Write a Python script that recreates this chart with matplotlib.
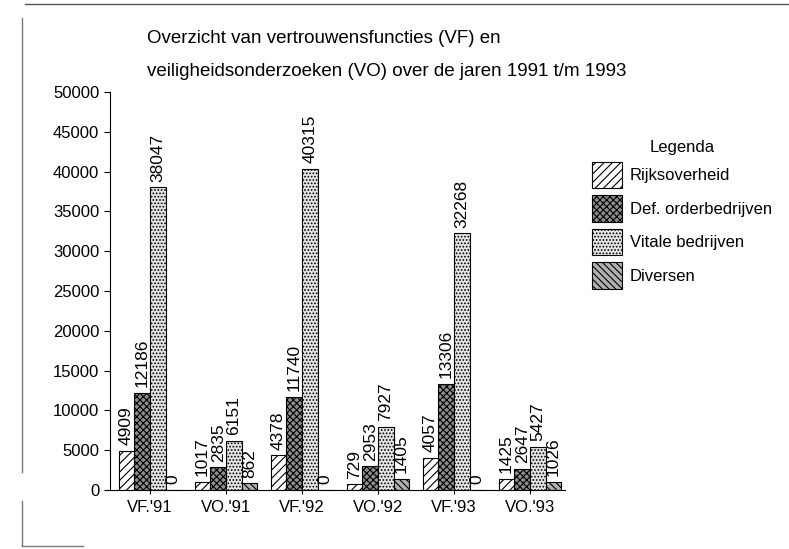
import numpy as np
import matplotlib.pyplot as plt
from matplotlib.lines import Line2D
from matplotlib.patches import Patch

plt.rcParams['font.family'] = ['Liberation Sans', 'DejaVu Sans']
plt.rcParams['hatch.linewidth'] = 0.8

groepen = ["VF.'91", "VO.'91", "VF.'92", "VO.'92", "VF.'93", "VO.'93"]
rijksoverheid = [4909, 1017, 4378, 729, 4057, 1425]
def_orderbedrijven = [12186, 2835, 11740, 2953, 13306, 2647]
vitale_bedrijven = [38047, 6151, 40315, 7927, 32268, 5427]
diversen = [0, 862, 0, 1405, 0, 1026]

reeksen = [
    ('Rijksoverheid', rijksoverheid, 'white', '////'),
    ('Def. orderbedrijven', def_orderbedrijven, '#8c8c8c', 'xxxxx'),
    ('Vitale bedrijven', vitale_bedrijven, '#e4e4e4', '.....'),
    ('Diversen', diversen, '#b0b0b0', '\\\\\\\\\\'),
]

fig = plt.figure(figsize=(7.89, 5.49), dpi=100)
ax = fig.add_axes([0.139, 0.1075, 0.577, 0.725])

x = np.arange(len(groepen))
w = 0.205
handles = []
for i, (naam, vals, fc, hatch) in enumerate(reeksen):
    pos = x + (i - 1.5) * w
    bars = ax.bar(pos, vals, width=w, color=fc, edgecolor='black',
                  hatch=hatch, linewidth=0.8)
    for b, v in zip(bars, vals):
        ax.text(b.get_x() + b.get_width() / 2, v + 700, str(v),
                rotation=90, ha='center', va='bottom', fontsize=12.5)
    handles.append(Patch(facecolor=fc, edgecolor='black', hatch=hatch,
                         linewidth=0.8, label=naam))

ax.set_ylim(0, 50000)
ax.set_xlim(-0.53, 5.46)
ax.set_yticks(np.arange(0, 50001, 5000))
ax.set_xticks(x)
ax.set_xticklabels(groepen, fontsize=12)
ax.tick_params(axis='y', labelsize=12, length=4, width=0.8)
ax.tick_params(axis='x', length=3, width=0.8, pad=4)
for s in ['top', 'right']:
    ax.spines[s].set_visible(False)
ax.spines['left'].set_linewidth(0.8)
ax.spines['bottom'].set_linewidth(0.8)

fig.text(0.186, 0.930, 'Overzicht van vertrouwensfuncties (VF) en',
         fontsize=13.5, va='center')
fig.text(0.186, 0.870, 'veiligheidsonderzoeken (VO) over de jaren 1991 t/m 1993',
         fontsize=13.5, va='center')

leg = fig.legend(handles=handles, loc='upper left',
                 bbox_to_anchor=(0.750, 0.745), frameon=False,
                 title='Legenda', fontsize=12, title_fontsize=12,
                 handlelength=1.8, handleheight=2.1, handletextpad=0.5,
                 labelspacing=0.4, borderpad=0, borderaxespad=0)

# omlijsting van de scan
fig.add_artist(Line2D([0.032, 1.0], [0.993, 0.993], color='#555555', lw=1.0))
fig.add_artist(Line2D([0.028, 0.028], [0.967, 0.14], color='#777777', lw=1.0))
fig.add_artist(Line2D([0.028, 0.028], [0.088, 0.005], color='#777777', lw=1.0))
fig.add_artist(Line2D([0.028, 0.105], [0.005, 0.005], color='#777777', lw=1.0))

fig.savefig('out.png', dpi=100)
